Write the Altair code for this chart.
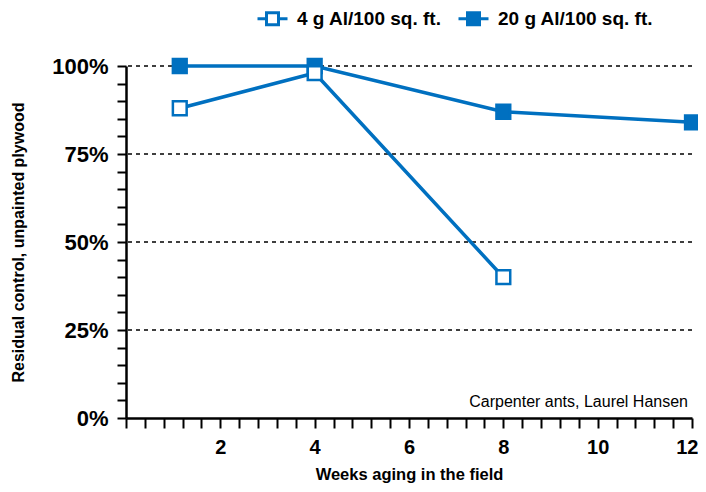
import altair as alt
import pandas as pd

BLUE = "#0070C0"

series_names = ["4 g Al/100 sq. ft.", "20 g Al/100 sq. ft."]
weeks_4g = [1.14, 4, 8]
control_4g = [88, 98, 40]
weeks_20g = [1.14, 4, 8, 12]
control_20g = [100, 100, 87, 84]
grid_levels = [25, 50, 75, 100]
x_tick_values = [round(i * 0.4, 1) for i in range(31)]
y_tick_values = list(range(0, 101, 5))
note = "Carpenter ants, Laurel Hansen"

rows = []
for w, c in zip(weeks_20g, control_20g):
    rows.append({"week": w, "control": c, "series": series_names[1]})
for w, c in zip(weeks_4g, control_4g):
    rows.append({"week": w, "control": c, "series": series_names[0]})
df = pd.DataFrame(rows)
grid_df = pd.DataFrame({"control": grid_levels})

W, H = 566, 352

x_enc = alt.X(
    "week:Q",
    scale=alt.Scale(domain=[0, 12], nice=False, zero=False),
    axis=alt.Axis(
        title="Weeks aging in the field",
        values=x_tick_values,
        labelExpr="datum.value >= 2 && abs(datum.value - round(datum.value / 2) * 2) < 0.01 ? format(datum.value, 'd') : ''",
        labelAlign={"expr": "datum.value > 11.9 ? 'right' : 'center'"},
        labelOffset={"expr": "datum.value > 11.9 ? 6 : 0"},
        grid=False,
        domainColor="black", domainWidth=2.5,
        tickColor="black", tickWidth=2, tickSize=10,
        labelFont="Liberation Sans", labelFontWeight="bold", labelFontSize=20,
        labelColor="black", labelPadding=9, labelFlush=False, labelOverlap=False,
        titleFont="Liberation Sans", titleFontWeight="bold", titleFontSize=16.5,
        titleColor="black", titlePadding=9,
    ),
)
y_enc = alt.Y(
    "control:Q",
    scale=alt.Scale(domain=[0, 100], nice=False),
    axis=alt.Axis(
        title="Residual control, unpainted plywood",
        values=y_tick_values,
        labelExpr="datum.value % 25 == 0 ? datum.value + '%' : ''",
        grid=False,
        domainColor="black", domainWidth=2.5,
        tickColor="black", tickWidth=2, tickSize=9,
        labelFont="Liberation Sans", labelFontWeight="bold", labelFontSize=22,
        labelColor="black", labelPadding=9, labelOverlap=False, labelFlush=False,
        titleFont="Liberation Sans", titleFontWeight="bold", titleFontSize=16,
        titleColor="black", titlePadding=25,
    ),
)

grid = alt.Chart(grid_df).mark_rule(color="black", strokeWidth=1.5, strokeDash=[4, 4]).encode(
    y=y_enc
)

lines = alt.Chart(df).mark_line(color=BLUE, strokeWidth=3.5).encode(
    x=x_enc, y=y_enc, detail="series:N"
)

legend_path = "M-1,0H-0.4M0.4,0H1M-0.4,-0.4H0.4V0.4H-0.4Z"
points = alt.Chart(df).mark_point(shape="square", size=190, strokeWidth=2.5, opacity=1, stroke=BLUE).encode(
    x=x_enc,
    y=y_enc,
    fill=alt.Fill(
        "series:N",
        scale=alt.Scale(domain=series_names, range=["white", BLUE]),
        legend=alt.Legend(
            title=None, orient="none", direction="horizontal",
            legendX=130, legendY=-64,
            symbolType=legend_path, symbolSize=900, symbolStrokeWidth=3,
            symbolStrokeColor=BLUE, symbolOpacity=1,
            labelFont="Liberation Sans", labelFontWeight="bold", labelFontSize=19,
            labelColor="black", labelOffset=8, labelLimit=400, columnPadding=10, padding=0,
        ),
    ),
)

note_layer = alt.Chart(pd.DataFrame({"t": [note]})).mark_text(
    align="right", baseline="middle", font="Liberation Sans", fontSize=16, color="black"
).encode(text="t:N", x=alt.value(W - 4), y=alt.value(H - 16))

chart = alt.layer(grid, lines, points, note_layer).properties(
    width=W, height=H,
    autosize=alt.AutoSizeParams(type="none"),
    padding={"left": 118, "top": 58, "right": 6, "bottom": 66},
).configure_view(stroke=None)

chart.save("out.html", embed_options={"renderer": "svg", "actions": False})
